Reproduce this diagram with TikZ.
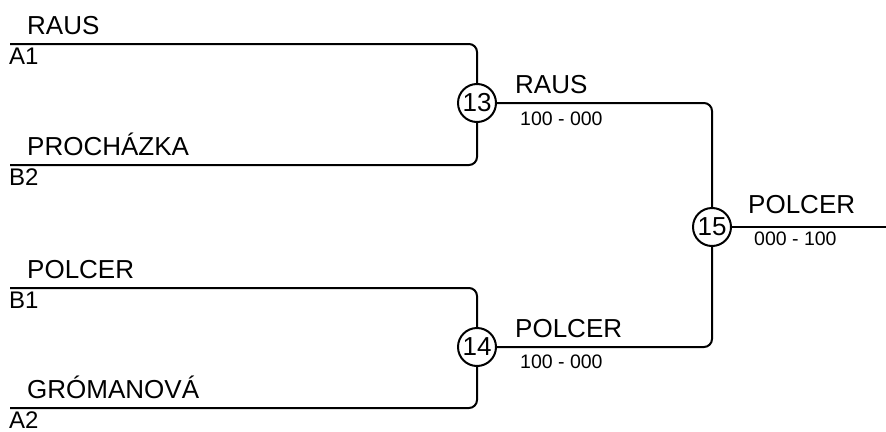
\documentclass[tikz,border=0pt]{standalone}
\usepackage{fontspec}
\setmainfont{Liberation Sans}
\begin{document}
\begin{tikzpicture}[x=1pt,y=-1pt,
                bar/.style={draw=black,line width=2pt,rounded corners=8pt},
                match/.style={circle,draw=black,line width=2pt,inner sep=0pt,minimum size=38pt,font=\fontsize{26}{26}\selectfont},
                player/.style={anchor=base west,inner sep=0pt,font=\fontsize{26}{26}\selectfont},
                seed/.style={anchor=base west,inner sep=0pt,font=\fontsize{24}{24}\selectfont},
                score/.style={anchor=base west,inner sep=0pt,font=\fontsize{19.5}{19.5}\selectfont}
            ]
                \useasboundingbox (0,0) rectangle (886,431);
                % first round slots
                \foreach \name/\seed/\y in {RAUS/A1/44, PROCHÁZKA/B2/165, POLCER/B1/288, GRÓMANOVÁ/A2/408}
                    {
                    \coordinate (\seed) at (10,\y);
                    \node[player] (n\seed) at (27,\y-10) {\name};
                    \node[seed] (s\seed) at (9,\y+20) {\seed};
                }
                \node[match] (m13) at (477,103) {13};
                \node[match] (m14) at (477,347) {14};
                \node[match] (m15) at (712,227) {15};
                \coordinate (out) at (886,227);
                \draw[bar] (A1) -| (m13);
                \draw[bar] (B2) -| (m13);
                \draw[bar] (B1) -| (m14);
                \draw[bar] (A2) -| (m14);
                \draw[bar] (m13) -| (m15);
                \draw[bar] (m14) -| (m15);
                \draw[bar] (m15) -- (out);
                \node[player] (w13) at (515,93) {RAUS};
                \node[score] (r13) at (520,125) {100 - 000};
                \node[player] (w14) at (515,337) {POLCER};
                \node[score] (r14) at (520,368) {100 - 000};
                \node[player] (w15) at (748,213) {POLCER};
                \node[score] (r15) at (754,245) {000 - 100};

            \end{tikzpicture}
\end{document}
